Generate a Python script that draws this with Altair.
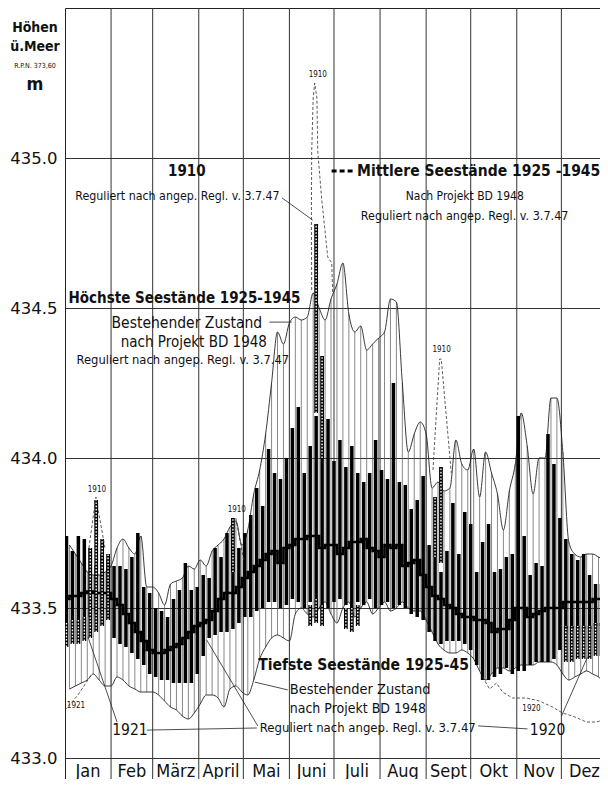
import altair as alt
import pandas as pd

FONT = "'DejaVu Sans Condensed', 'Liberation Sans Narrow', 'DejaVu Sans'"

# ---------------- data ----------------
bar_start, bar_step = 1, 4  # centre day of first 4-day period, period length

# Projekt BD 1948: top and bottom of the black bars, mean water level
bd_top = [433.74, 433.69, 433.74, 433.73, 433.70, 433.64, 433.68, 433.66, 433.64, 433.64,
          433.63, 433.67, 433.75, 433.57, 433.55, 433.50, 433.49, 433.47, 433.53, 433.56,
          433.65, 433.56, 433.57, 433.61, 433.60, 433.70, 433.67, 433.75, 433.70, 433.70,
          433.75, 433.81, 433.90, 433.84, 434.03, 433.95, 433.93, 434.00, 434.10, 434.17,
          433.95, 434.04, 434.14, 434.00, 434.13, 433.99, 434.06, 433.97, 434.04, 433.95,
          433.92, 433.95, 434.06, 433.96, 433.93, 434.25, 433.92, 433.91, 433.83, 433.86,
          433.94, 433.71, 433.67, 433.62, 433.69, 433.85, 433.68, 433.82, 433.78, 433.62,
          433.72, 433.78, 433.62, 433.63, 433.67, 433.68, 434.14, 433.74, 433.61, 433.65,
          433.64, 434.08, 433.98, 433.80, 433.73, 433.68, 433.66, 433.68, 433.61, 433.58, 433.58]
bd_bot = [433.45, 433.46, 433.46, 433.47, 433.47, 433.48, 433.48, 433.46, 433.40, 433.38,
          433.37, 433.35, 433.33, 433.31, 433.28, 433.27, 433.26, 433.26, 433.25, 433.25,
          433.25, 433.25, 433.28, 433.34, 433.40, 433.41, 433.42, 433.42, 433.43, 433.45,
          433.47, 433.47, 433.49, 433.50, 433.52, 433.52, 433.50, 433.51, 433.53, 433.52,
          433.50, 433.52, 433.53, 433.51, 433.50, 433.52, 433.53, 433.51, 433.50, 433.52,
          433.51, 433.53, 433.50, 433.51, 433.52, 433.50, 433.51, 433.50, 433.48, 433.47,
          433.46, 433.42, 433.39, 433.38, 433.39, 433.39, 433.39, 433.38, 433.36, 433.31,
          433.26, 433.26, 433.27, 433.28, 433.30, 433.28, 433.29, 433.29, 433.31, 433.32,
          433.32, 433.32, 433.33, 433.36, 433.43, 433.43, 433.43, 433.43, 433.43, 433.44, 433.44]
bd_mean = [433.53, 433.54, 433.54, 433.55, 433.555, 433.55, 433.55, 433.55, 433.53, 433.51,
           433.48, 433.45, 433.42, 433.39, 433.36, 433.35, 433.35, 433.36, 433.37, 433.38,
           433.40, 433.42, 433.44, 433.45, 433.46, 433.49, 433.53, 433.55, 433.55, 433.57,
           433.60, 433.62, 433.64, 433.66, 433.68, 433.69, 433.65, 433.70, 433.71, 433.73,
           433.73, 433.74, 433.74, 433.70, 433.71, 433.71, 433.68, 433.70, 433.72, 433.72,
           433.73, 433.70, 433.69, 433.67, 433.71, 433.70, 433.71, 433.64, 433.65, 433.66,
           433.61, 433.57, 433.54, 433.53, 433.51, 433.50, 433.48, 433.47, 433.47, 433.46,
           433.46, 433.45, 433.42, 433.43, 433.43, 433.46, 433.50, 433.50, 433.47, 433.48,
           433.49, 433.50, 433.50, 433.50, 433.52, 433.52, 433.52, 433.52, 433.52, 433.53, 433.53]

# Bestehender Zustand: highest / lowest levels (envelopes, between the periods)
hi_env = [433.71, 433.68, 433.65, 433.62, 433.61, 433.61, 433.62, 433.64, 433.70, 433.73,
          433.70, 433.68, 433.74, 433.57, 433.57, 433.55, 433.51, 433.58, 433.59, 433.60,
          433.64, 433.63, 433.66, 433.64, 433.69, 433.71, 433.73, 433.77, 433.79, 433.71,
          433.76, 433.88, 433.96, 434.08, 434.25, 434.42, 434.38, 434.45, 434.47, 434.46,
          434.47, 434.55, 434.50, 434.46, 434.53, 434.58, 434.65, 434.48, 434.42, 434.44,
          434.36, 434.38, 434.40, 434.42, 434.53, 434.52, 434.25, 434.02, 434.08, 434.12,
          434.08, 433.90, 433.92, 433.89, 433.90, 434.06, 433.98, 433.96, 434.03, 433.87,
          434.02, 433.95, 433.88, 433.76, 433.89, 433.98, 434.15, 434.04, 433.88, 434.00,
          434.00, 434.20, 434.20, 434.02, 433.72, 433.68, 433.67, 433.68, 433.68, 433.67, 433.66]
lo_env = [433.23, 433.24, 433.25, 433.26, 433.28, 433.26, 433.24, 433.24, 433.27, 433.26,
          433.24, 433.23, 433.22, 433.22, 433.22, 433.21, 433.19, 433.17, 433.16, 433.14,
          433.13, 433.15, 433.18, 433.21, 433.21, 433.20, 433.17, 433.23, 433.24, 433.22,
          433.21, 433.26, 433.33, 433.37, 433.40, 433.41, 433.40, 433.39, 433.48, 433.50,
          433.48, 433.47, 433.50, 433.52, 433.48, 433.45, 433.50, 433.52, 433.47, 433.50,
          433.52, 433.48, 433.50, 433.52, 433.49, 433.50, 433.52, 433.50, 433.49, 433.49,
          433.46, 433.42, 433.38, 433.36, 433.35, 433.35, 433.36, 433.35, 433.33, 433.29,
          433.26, 433.28, 433.30, 433.30, 433.29, 433.30, 433.31, 433.31, 433.31, 433.32,
          433.32, 433.32, 433.31, 433.28, 433.26, 433.27, 433.28, 433.29, 433.28, 433.27, 433.25]

# Reguliert nach angep. Regl. v. 3.7.47 (checkered bars): period index, bottom, top
reg_idx = [0, 1, 2, 3, 4, 5, 6, 7, 28, 41, 42, 43, 42, 43, 47, 48, 49, 62, 63,
           84, 85, 86, 87, 88, 89, 90]
reg_bot = [433.37, 433.38, 433.38, 433.39, 433.40, 433.42, 433.44, 433.46, 433.62, 433.44,
           434.15, 434.00, 433.45, 433.44, 433.43, 433.42, 433.44, 433.67, 433.65,
           433.32, 433.32, 433.33, 433.33, 433.33, 433.34, 433.34]
reg_top = [433.45, 433.46, 433.46, 433.47, 433.70, 433.86, 433.73, 433.68, 433.80, 433.51,
           434.78, 434.34, 433.53, 433.51, 433.50, 433.50, 433.51, 433.87, 433.97,
           433.44, 433.44, 433.44, 433.44, 433.44, 433.45, 433.45]

# year 1910 (dashed peaks)
y1910_grp = ["jan"] * 3 + ["apr"] * 2 + ["jun"] * 11 + ["sep"] * 4
y1910_day = [16.1, 20.8, 26.9, 114.9, 120.3,
             166.0, 165.8, 166.0, 167.0, 168.0, 169.5, 170.1, 172.8, 176.8, 179.5, 180.1,
             247.6, 252.1, 253.2, 259.9]
y1910_val = [433.70, 433.87, 433.70, 433.80, 433.66,
             434.56, 434.80, 435.02, 435.20, 435.25, 435.20, 435.02, 434.86, 434.67, 434.65, 434.55,
             433.96, 434.33, 434.33, 433.95]
# year 1921 (low, January) and 1920 (low, Oct-Dec)
y1921_day = [0.0, 8.7, 18.1]
y1921_val = [433.16, 433.21, 433.28]
y1920_day = [281.0, 285.7, 290.4, 294.4, 301.1, 310.5, 319.3, 328.0, 334.7, 341.5, 350.9, 357.6, 364.3]
y1920_val = [433.27, 433.23, 433.25, 433.22, 433.20, 433.20, 433.19, 433.17, 433.15, 433.14,
             433.12, 433.12, 433.13]

month_names = ["Jan", "Feb", "März", "April", "Mai", "Juni", "Juli", "Aug", "Sept", "Okt", "Nov", "Dez"]
month_len = [31, 28, 31, 30, 31, 30, 31, 31, 30, 31, 30, 31]
y_ticks = [433.0, 433.5, 434.0, 434.5, 435.0]

# annotation texts: text, day, level, size, weight, align
ann = [
    ("Höhen", -20.2, 435.433, 14, "bold", "center"),
    ("ü.Meer", -20.2, 435.370, 14, "bold", "center"),
    ("R.P.N. 373,60", -20.2, 435.307, 7, "normal", "center"),
    ("m", -20.2, 435.243, 18, "bold", "center"),
    ("1910", 82.0, 434.957, 15, "bold", "center"),
    ("Reguliert nach angep. Regl. v. 3.7.47", 75.7, 434.873, 12.3, "normal", "center"),
    ("Mittlere Seestände 1925 -1945", 196.5, 434.957, 15.5, "bold", "left"),
    ("Nach Projekt BD 1948", 269.0, 434.873, 12, "normal", "center"),
    ("Reguliert nach angep. Regl. v. 3.7.47", 268.9, 434.807, 12.5, "normal", "center"),
    ("Höchste Seestände 1925-1945", 80.4, 434.533, 15, "bold", "center"),
    ("Bestehender Zustand", 82.0, 434.450, 15.5, "normal", "center"),
    ("nach Projekt BD 1948", 86.7, 434.387, 15, "normal", "center"),
    ("Reguliert nach angep. Regl. v. 3.7.47", 79.3, 434.327, 12.8, "normal", "center"),
    ("Tiefste Seestände 1925-45", 200.9, 433.310, 15.5, "bold", "center"),
    ("Bestehender Zustand", 151.2, 433.227, 14.5, "normal", "left"),
    ("nach Projekt BD 1948", 151.2, 433.163, 14, "normal", "left"),
    ("Reguliert nach angep. Regl. v. 3.7.47", 131.1, 433.100, 13, "normal", "left"),
    ("1921", 43.7, 433.093, 15.5, "normal", "center"),
    ("1921", 7.4, 433.173, 8, "normal", "center"),
    ("1920", 324.7, 433.093, 15.5, "normal", "center"),
    ("1920", 313.9, 433.163, 8, "normal", "center"),
    ("1910", 21.5, 433.893, 8, "normal", "center"),
    ("1910", 115.6, 433.827, 8, "normal", "center"),
    ("1910", 170.1, 435.277, 8, "normal", "center"),
    ("1910", 253.4, 434.360, 8, "normal", "center"),
]
# leader lines: day1, level1, day2, level2
leaders = [
    (146.0, 434.867, 166.7, 434.793),
    (137.5, 434.453, 152.6, 434.453),
    (149.9, 433.227, 127.7, 433.253),
    (129.7, 433.107, 95.4, 433.393),
    (55.1, 433.093, 129.1, 433.100),
    (35.0, 433.120, 15.5, 433.403),
    (278.0, 433.107, 311.2, 433.097),
    (334.1, 433.140, 351.6, 433.337),
]
legend_dash = [(179.4, 193.6, 434.957)]

# ---------------- frames ----------------
bars = pd.DataFrame({"day": [bar_start + bar_step * i for i in range(len(bd_top))],
                     "top": bd_top, "bot": bd_bot, "mean": bd_mean})
env = pd.DataFrame({"day": [bar_start + bar_step * i + bar_step / 2 for i in range(len(hi_env))],
                    "hi": hi_env, "lo": lo_env})
reg = pd.DataFrame({"day": [bar_start + bar_step * i for i in reg_idx], "bot": reg_bot, "top": reg_top})
d1910 = pd.DataFrame({"day": y1910_day, "val": y1910_val, "grp": y1910_grp,
                      "ord": list(range(len(y1910_day)))})
d1921 = pd.DataFrame({"day": y1921_day, "val": y1921_val})
d1920 = pd.DataFrame({"day": y1920_day, "val": y1920_val})
bounds = [0]
for m in month_len:
    bounds.append(bounds[-1] + m)
mlines = pd.DataFrame({"day": bounds[1:-1]})
mlab = pd.DataFrame({"day": [(bounds[k] + bounds[k + 1]) / 2 for k in range(12)],
                     "name": month_names, "val": [432.955] * 12})
anndf = pd.DataFrame(ann, columns=["text", "day", "val", "size", "weight", "align"])
lead = pd.DataFrame(leaders, columns=["d1", "v1", "d2", "v2"])
legd = pd.DataFrame(legend_dash, columns=["d1", "d2", "v"])

# ---------------- encodings ----------------
xscale = alt.Scale(domain=[0, 360], nice=False, zero=False)
yscale = alt.Scale(domain=[432.93, 435.5], nice=False, zero=False)
yaxis = alt.Axis(values=y_ticks, format=".1f", labelFontSize=16.5, labelFont="DejaVu Sans",
                 labelColor="#111", ticks=False, domain=False, grid=True, gridColor="#333",
                 gridWidth=1, gridOpacity=1, labelPadding=8, title=None)


def X(f="day"):
    return alt.X(f"{f}:Q", scale=xscale, axis=None)


def Y(f):
    return alt.Y(f"{f}:Q", scale=yscale, axis=yaxis)


layers = []
# month separators
layers.append(alt.Chart(mlines).mark_rule(color="#333", strokeWidth=1).encode(
    x=X(), y=alt.value(0), y2=alt.value(771)))
# thin hollow bars of the existing state
layers.append(alt.Chart(env).mark_rule(color="#555", strokeWidth=0.7, clip=True).encode(
    x=X(), y=Y("lo"), y2=alt.Y2("hi")))
# envelopes
for f in ["hi", "lo"]:
    layers.append(alt.Chart(env).mark_line(color="#222", strokeWidth=0.9, interpolate="monotone",
                                           clip=True).encode(x=X(), y=Y(f)))
# black bars (Projekt BD 1948)
layers.append(alt.Chart(bars).mark_rule(color="#000", strokeWidth=3.5, strokeCap="butt", clip=True).encode(
    x=X(), y=Y("bot"), y2=alt.Y2("top")))
# mean line
layers.append(alt.Chart(bars).mark_line(color="#000", strokeWidth=2.6, interpolate="step", clip=True).encode(
    x=X(), y=Y("mean")))
# checkered bars (Reguliert)
layers.append(alt.Chart(reg).mark_rule(color="#000", strokeWidth=3.8, strokeCap="butt", clip=True).encode(
    x=X(), y=Y("bot"), y2=alt.Y2("top")))
layers.append(alt.Chart(reg).mark_rule(color="#fff", strokeWidth=1.4, strokeDash=[1.6, 1.6],
                                       strokeCap="butt", clip=True).encode(
    x=X(), y=Y("bot"), y2=alt.Y2("top")))
# dashed year lines
layers.append(alt.Chart(d1910).mark_line(color="#333", strokeWidth=0.8, strokeDash=[3, 2], clip=True).encode(
    x=X(), y=Y("val"), detail="grp:N", order="ord:Q"))
for d in [d1921, d1920]:
    layers.append(alt.Chart(d).mark_line(color="#333", strokeWidth=0.8, strokeDash=[3, 2], clip=True).encode(
        x=X(), y=Y("val")))
# leader lines
layers.append(alt.Chart(lead).mark_rule(color="#222", strokeWidth=0.8).encode(
    x=X("d1"), x2=alt.X2("d2"), y=Y("v1"), y2=alt.Y2("v2")))
# legend dash sample
layers.append(alt.Chart(legd).mark_rule(color="#000", strokeWidth=3, strokeDash=[5, 3]).encode(
    x=X("d1"), x2=alt.X2("d2"), y=Y("v")))
# annotations
for (w, a), sub in anndf.groupby(["weight", "align"]):
    layers.append(alt.Chart(sub).mark_text(font=FONT, fontWeight=w, align=a, baseline="middle",
                                           color="#111").encode(
        x=X(), y=Y("val"), text="text:N", size=alt.Size("size:Q", scale=None, legend=None)))
# month labels
layers.append(alt.Chart(mlab).mark_text(font=FONT, fontSize=18, color="#111", baseline="middle").encode(
    x=X(), y=Y("val"), text="name:N"))

chart = alt.layer(*layers).properties(
    width=535, height=771,
    autosize=alt.AutoSizeParams(type="none"),
    padding={"left": 57, "top": 0, "right": 0, "bottom": 0},
).configure_view(stroke="#222", strokeWidth=1)

chart.save("out.html", embed_options={"renderer": "svg", "actions": False})
